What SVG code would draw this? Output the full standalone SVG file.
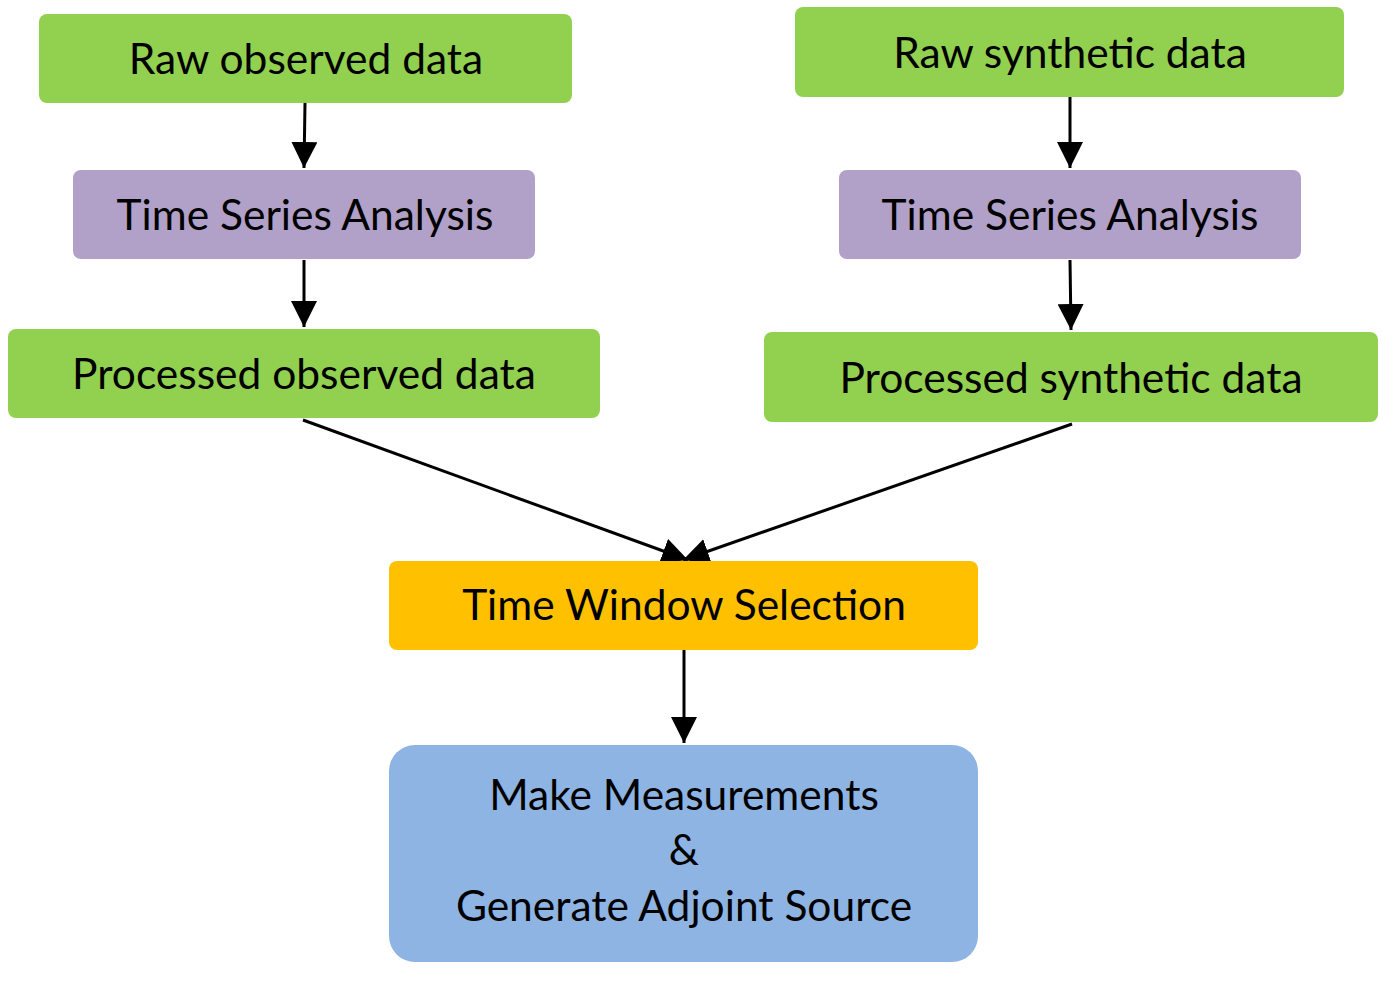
<svg xmlns="http://www.w3.org/2000/svg" width="1383" height="984" viewBox="0 0 1383 984">
  <style>
    .lbl { font-family: Lato, "Open Sans", "Liberation Sans", sans-serif; font-size: 42.5px; fill: #000; text-anchor: middle; }
    .green { fill: #92D050; }
    .purple { fill: #B1A0C7; }
    .orange { fill: #FFC000; }
    .blue { fill: #8EB4E3; }
    .edge { stroke: #000; stroke-width: 3; fill: none; marker-end: url(#arrow); }
  </style>
  <defs>
    <marker id="arrow" markerUnits="userSpaceOnUse" markerWidth="26" markerHeight="26" viewBox="0 0 24 24" refX="24" refY="12" orient="auto">
      <path d="M0,0 L24,12 L0,24 Z" fill="#000"/>
    </marker>
  </defs>

  <!-- processing flow connectors -->
  <g id="connectors">
    <line class="edge" x1="305" y1="103" x2="304" y2="168"/>
    <line class="edge" x1="304" y1="260" x2="304" y2="327"/>
    <line class="edge" x1="1070" y1="97" x2="1070" y2="168"/>
    <line class="edge" x1="1070" y1="260" x2="1071" y2="330"/>
    <line class="edge" x1="303" y1="420" x2="688" y2="560"/>
    <line class="edge" x1="1072" y1="424" x2="683" y2="560"/>
    <line class="edge" x1="684" y1="650" x2="684" y2="743"/>
  </g>

  <!-- observed branch -->
  <g id="raw-observed">
    <rect class="green" x="39" y="14" width="533" height="89" rx="8"/>
    <text class="lbl" x="306" y="74">Raw observed data</text>
  </g>
  <g id="tsa-observed">
    <rect class="purple" x="73" y="170" width="462" height="89" rx="8"/>
    <text class="lbl" x="305" y="230">Time Series Analysis</text>
  </g>
  <g id="processed-observed">
    <rect class="green" x="8" y="329" width="592" height="89" rx="8"/>
    <text class="lbl" x="304" y="389">Processed observed data</text>
  </g>

  <!-- synthetic branch -->
  <g id="raw-synthetic">
    <rect class="green" x="795" y="7" width="549" height="90" rx="8"/>
    <text class="lbl" x="1070" y="68">Raw synthetic data</text>
  </g>
  <g id="tsa-synthetic">
    <rect class="purple" x="839" y="170" width="462" height="89" rx="8"/>
    <text class="lbl" x="1070" y="230">Time Series Analysis</text>
  </g>
  <g id="processed-synthetic">
    <rect class="green" x="764" y="332" width="614" height="90" rx="8"/>
    <text class="lbl" x="1071" y="393">Processed synthetic data</text>
  </g>

  <!-- shared steps -->
  <g id="time-window">
    <rect class="orange" x="389" y="561" width="589" height="89" rx="8"/>
    <text class="lbl" x="684" y="620">Time Window Selection</text>
  </g>
  <g id="measurements">
    <rect class="blue" x="389" y="745" width="589" height="217" rx="26"/>
    <text class="lbl" x="684" y="810">Make Measurements</text>
    <text class="lbl" x="684" y="865">&amp;</text>
    <text class="lbl" x="684" y="921">Generate Adjoint Source</text>
  </g>
</svg>
